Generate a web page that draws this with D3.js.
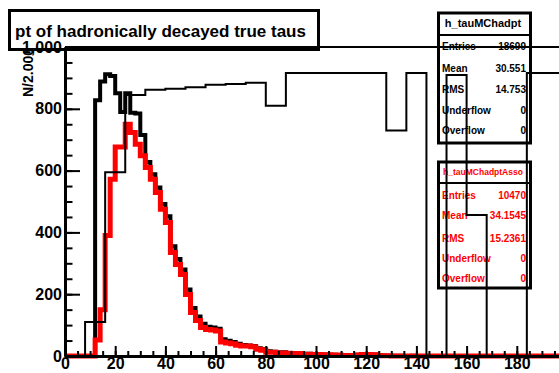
<!DOCTYPE html>
<html>
<head>
<meta charset="utf-8">
<script src="https://cdnjs.cloudflare.com/ajax/libs/d3/7.8.5/d3.min.js"></script>
<style>
    body { margin: 0; background: #fff; }
    svg { display: block; font-family: "Liberation Sans", Arial, sans-serif; font-weight: bold; }
</style>
</head>
<body>
<script>

// h_tauMChadpt, 2 GeV bins from 0 to 200
var binWidth = 2;

var allTaus = [
    0, 0, 0, 0, 0, 0, 828, 888, 912, 906,
    850, 790, 850, 787, 785, 715, 628, 588, 545, 492,
    452, 355, 314, 280, 215, 155, 128, 104, 95, 92,
    88, 54, 49, 45, 40, 36, 34, 32, 25, 22,
    15, 14, 12, 12, 10, 9, 9, 7, 7, 6,
    6, 5, 4, 4, 3, 3, 2, 3, 4, 6,
    6, 5, 3, 2, 1, 1, 1, 0, 0, 1,
    0, 0, 0, 0, 0, 0, 0, 0, 0, 0,
    0, 0, 0, 0, 0, 0, 0, 0, 0, 0,
    0, 0, 0, 0, 0, 0, 0, 0, 0, 0
];

// h_tauMChadptAsso, same binning
var assoTaus = [
    0, 0, 0, 0, 0, 0, 52, 150, 390, 572,
    676, 676, 750, 723, 685, 648, 610, 572, 529, 475,
    432, 335, 296, 264, 199, 141, 115, 92, 86, 84,
    81, 45, 42, 40, 35, 32, 32, 30, 22, 19,
    12, 12, 10, 10, 9, 8, 8, 6, 6, 5,
    5, 4, 4, 3, 3, 2, 2, 2, 3, 5,
    5, 4, 2, 1, 1, 0, 0, 0, 0, 0,
    0, 0, 0, 0, 0, 0, 0, 0, 0, 0,
    0, 0, 0, 0, 0, 0, 0, 0, 0, 0,
    0, 0, 0, 0, 0, 0, 0, 0, 0, 0
];

// thin line, variable bins
var ratioEdges = [0, 8, 16, 24, 32, 40, 48, 56, 64, 72, 80, 88, 128, 136, 144, 152, 160, 168, 184, 200];
var ratioValues = [0, 110, 595, 845, 862, 865, 870, 878, 880, 884, 810, 916, 730, 916, 0, 909, 456, 0, 916];

var xTicks = [0, 20, 40, 60, 80, 100, 120, 140, 160, 180];
var yTicks = [0, 200, 400, 600, 800, 1000];

var statsAll = [
    ["Entries", "18699"],
    ["Mean", "30.551"],
    ["RMS", "14.753"],
    ["Underflow", "0"],
    ["Overflow", "0"]
];

var statsAsso = [
    ["Entries", "10470"],
    ["Mean", "34.1545"],
    ["RMS", "15.2361"],
    ["Underflow", "0"],
    ["Overflow", "0"]
];

var svg = d3.select("body")
    .append("svg")
        .attr("width", 559)
        .attr("height", 373);

svg.append("rect")
    .attr("width", 559)
    .attr("height", 373)
    .attr("fill", "white");

var x = d3.scaleLinear().domain([0, 200]).range([65, 567]);
var y = d3.scaleLinear().domain([0, 1000]).range([356, 47]);

// title pave
svg.append("rect")
    .attr("x", 9.5)
    .attr("y", 10.5)
    .attr("width", 309)
    .attr("height", 39)
    .attr("fill", "white")
    .attr("stroke", "black")
    .attr("stroke-width", 3);

svg.append("text")
    .attr("x", 15)
    .attr("y", 37)
    .attr("font-size", 17)
    .text("pt of hadronically decayed true taus");

// stats boxes
function statsBox(top, bottom, sep, title, titleSize, titleY, rows, rowY, color) {

    svg.append("rect")
        .attr("x", 438.5)
        .attr("y", top)
        .attr("width", 92)
        .attr("height", bottom - top)
        .attr("fill", "white")
        .attr("stroke", "black")
        .attr("stroke-width", 3);

    svg.append("line")
        .attr("x1", 438.5).attr("x2", 530.5)
        .attr("y1", sep).attr("y2", sep)
        .attr("stroke", "black")
        .attr("stroke-width", 2);

    svg.append("text")
        .attr("x", 483)
        .attr("y", titleY)
        .attr("text-anchor", "middle")
        .attr("font-size", titleSize)
        .attr("fill", color)
        .text(title);

    rows.forEach(function (r, i) {
        svg.append("text")
            .attr("x", 442)
            .attr("y", rowY[i])
            .attr("font-size", 10)
            .attr("fill", color)
            .text(r[0]);
        svg.append("text")
            .attr("x", 526)
            .attr("y", rowY[i])
            .attr("text-anchor", "end")
            .attr("font-size", 10)
            .attr("fill", color)
            .text(r[1]);
    });
}

statsBox(13, 143, 35, "h_tauMChadpt", 11, 27, statsAll, [50, 72, 93, 114, 134], "black");
statsBox(162, 288, 183, "h_tauMChadptAsso", 8.5, 175, statsAsso, [198.5, 219, 241.5, 262, 282], "red");

// histograms
function histPoints(edges, values) {
    var pts = values.map(function (v, i) { return [edges[i], v]; });
    pts.push([edges[values.length], values[values.length - 1]]);
    return pts;
}

var step = d3.line()
    .x(function (d) { return x(d[0]); })
    .y(function (d) { return y(d[1]); })
    .curve(d3.curveStepAfter);

var edges2 = d3.range(0, 200 + binWidth, binWidth);

svg.append("path")
    .attr("d", step(histPoints(edges2, allTaus)))
    .attr("fill", "none")
    .attr("stroke", "black")
    .attr("stroke-width", 4);

svg.append("path")
    .attr("d", step(histPoints(edges2, assoTaus)))
    .attr("fill", "none")
    .attr("stroke", "red")
    .attr("stroke-width", 5);

svg.append("path")
    .attr("d", step(histPoints(ratioEdges, ratioValues)))
    .attr("fill", "none")
    .attr("stroke", "black")
    .attr("stroke-width", 2);

// frame top
svg.append("line")
    .attr("x1", x(0)).attr("x2", x(200))
    .attr("y1", y(1000)).attr("y2", y(1000))
    .attr("stroke", "black")
    .attr("stroke-width", 2);

// axes
function styleAxis(g, size) {
    g.attr("font-family", "'Liberation Sans', Arial, sans-serif")
        .attr("font-size", size)
        .attr("font-weight", "bold");
    g.select(".domain").attr("stroke-width", 3);
    g.selectAll(".tick line").attr("stroke-width", 2);
}

svg.append("g")
    .attr("transform", "translate(0," + y(0) + ")")
    .call(d3.axisBottom(x).tickValues(x.ticks(40)).tickSizeInner(-5).tickSizeOuter(0).tickFormat(""))
    .call(styleAxis, 16);

svg.append("g")
    .attr("transform", "translate(0," + y(0) + ")")
    .call(d3.axisBottom(x).tickValues(xTicks).tickSizeInner(-10).tickSizeOuter(0).tickPadding(2))
    .call(styleAxis, 16);

svg.append("g")
    .attr("transform", "translate(" + x(0) + ",0)")
    .call(d3.axisLeft(y).tickValues(y.ticks(20)).tickSizeInner(-7.5).tickSizeOuter(0).tickFormat(""))
    .call(styleAxis, 16);

svg.append("g")
    .attr("transform", "translate(" + x(0) + ",0)")
    .call(d3.axisLeft(y).tickValues(yTicks).tickSizeInner(-15).tickSizeOuter(0).tickPadding(3))
    .call(styleAxis, 16);

svg.append("text")
    .attr("transform", "translate(33,48) rotate(-90)")
    .attr("text-anchor", "end")
    .attr("font-size", 14)
    .text("N/2.000");

</script>
</body>
</html>
